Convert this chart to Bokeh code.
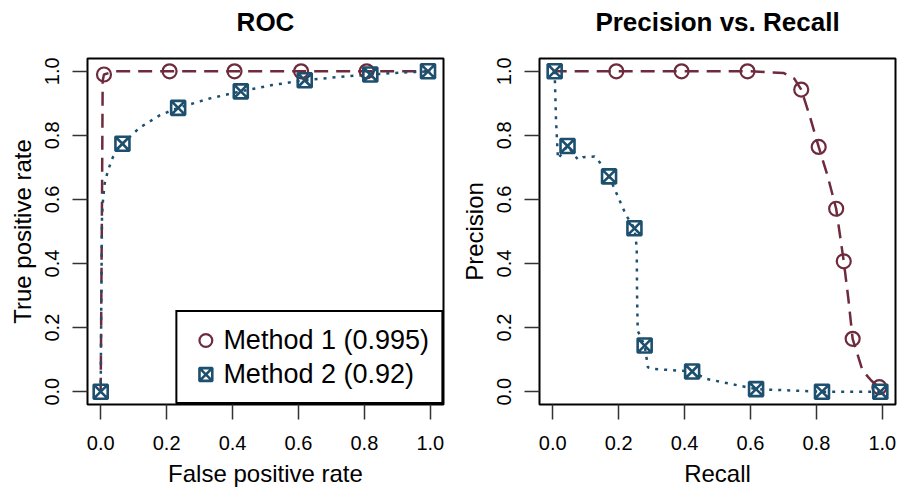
from bokeh.plotting import figure
from bokeh.layouts import row
from bokeh.models import (Range1d, FixedTicker, PrintfTickFormatter, Legend, LegendItem,
                          LinearAxis)
from bokeh.embed import file_html
from bokeh.resources import INLINE

# ---------------- data ----------------
tick_values = [0.0, 0.2, 0.4, 0.6, 0.8, 1.0]

# ROC, method 1 (curve + markers)
roc_m1_fpr = [0.0, 0.002, 0.004, 0.006, 0.010, 0.04, 0.2, 0.4, 0.6, 0.8, 1.0]
roc_m1_tpr = [0.0, 0.30, 0.60, 0.97, 0.990, 1.0, 1.0, 1.0, 1.0, 1.0, 1.0]
roc_m1_mk_fpr = [0.010, 0.209, 0.406, 0.608, 0.807]
roc_m1_mk_tpr = [0.990, 1.0, 1.0, 1.0, 1.0]

# ROC, method 2
roc_m2_fpr = [0.0, 0.001, 0.002, 0.004, 0.007, 0.012, 0.022, 0.037, 0.066, 0.118, 0.179,
              0.235, 0.33, 0.425, 0.52, 0.619, 0.72, 0.818, 0.91, 1.0]
roc_m2_tpr = [0.0, 0.15, 0.30, 0.545, 0.597, 0.649, 0.69, 0.732, 0.774, 0.824, 0.8625,
              0.886, 0.915, 0.9375, 0.957, 0.972, 0.982, 0.990, 0.996, 1.0]
roc_m2_mk_fpr = [0.0, 0.066, 0.235, 0.425, 0.619, 0.818, 0.993]
roc_m2_mk_tpr = [0.0, 0.774, 0.886, 0.9375, 0.972, 0.990, 1.0]

# Precision-recall, method 1
pr_m1_rec = [0.0, 0.2, 0.4, 0.6, 0.70, 0.733, 0.754, 0.78, 0.807, 0.835, 0.860, 0.883,
             0.897, 0.910, 0.94, 0.967, 0.991, 1.0]
pr_m1_prec = [1.0, 1.0, 1.0, 1.0, 0.995, 0.977, 0.943, 0.86, 0.764, 0.67, 0.571, 0.407,
              0.29, 0.165, 0.066, 0.034, 0.014, 0.0]
pr_m1_mk_rec = [0.193, 0.391, 0.591, 0.754, 0.807, 0.860, 0.883, 0.910, 0.991]
pr_m1_mk_prec = [1.0, 1.0, 1.0, 0.943, 0.764, 0.571, 0.407, 0.165, 0.014]

# Precision-recall, method 2
pr_m2_rec = [0.006, 0.010, 0.016, 0.045, 0.077, 0.092, 0.127, 0.142, 0.171, 0.223, 0.248,
             0.255, 0.256, 0.258, 0.279, 0.289, 0.304, 0.423, 0.466, 0.617, 0.817, 1.0]
pr_m2_prec = [1.0, 0.85, 0.727, 0.767, 0.724, 0.732, 0.734, 0.717, 0.672, 0.55, 0.51,
              0.45, 0.30, 0.19, 0.144, 0.076, 0.071, 0.063, 0.040, 0.008, 0.0, 0.0]
pr_m2_mk_rec = [0.006, 0.045, 0.171, 0.248, 0.279, 0.423, 0.617, 0.817, 0.994]
pr_m2_mk_prec = [1.0, 0.767, 0.672, 0.510, 0.144, 0.063, 0.008, 0.0, 0.0]

labels = ["Method 1 (0.995)", "Method 2 (0.92)"]
titles = ["ROC", "Precision vs. Recall"]
xlabels = ["False positive rate", "Recall"]
ylabels = ["True positive rate", "Precision"]

# ---------------- style ----------------
C1 = "#6E2B3D"
C2 = "#1D4F6F"
FONT = "Liberation Sans"


def make_fig(title, xlab, ylab, border_left, border_right, width):
    p = figure(width=width, height=489, output_backend="svg", toolbar_location=None,
               x_range=Range1d(-0.04, 1.04), y_range=Range1d(-0.04, 1.04),
               min_border_left=border_left, min_border_right=border_right,
               min_border_top=58, min_border_bottom=85)
    p.grid.visible = False
    p.outline_line_color = "black"
    p.outline_line_width = 2
    p.background_fill_color = "white"
    p.border_fill_color = "white"
    xax = p.below[0]
    yax = p.left[0]
    for ax in (xax, yax):
        ax.ticker = FixedTicker(ticks=tick_values)
        ax.formatter = PrintfTickFormatter(format="%.1f")
        ax.axis_line_color = None
        ax.major_tick_in = 0
        ax.major_tick_out = 15
        ax.major_tick_line_color = "#333333"
        ax.major_tick_line_width = 1.5
        ax.minor_tick_line_color = None
        ax.major_label_text_font = FONT
        ax.major_label_text_font_size = "20px"
        ax.major_label_text_color = "black"
        ax.axis_label_text_font = FONT
        ax.axis_label_text_font_size = "24px"
        ax.axis_label_text_font_style = "normal"
        ax.axis_label_text_color = "black"
        ax.axis_label_standoff = 7
    xax.major_label_standoff = 16
    yax.major_label_standoff = 13
    xax.axis_label = xlab
    yax.axis_label = ylab
    yax.major_label_orientation = "vertical"
    # title drawn as the label of an empty axis above the frame
    top = LinearAxis(ticker=FixedTicker(ticks=[]), axis_label=title)
    top.axis_line_color = None
    top.major_tick_line_color = None
    top.minor_tick_line_color = None
    top.major_tick_in = 0
    top.major_tick_out = 0
    top.major_label_standoff = 0
    top.axis_label_text_font = FONT
    top.axis_label_text_font_size = "26px"
    top.axis_label_text_font_style = "bold"
    top.axis_label_text_color = "black"
    top.axis_label_standoff = 22
    p.add_layout(top, "above")
    return p


p1 = make_fig(titles[0], xlabels[0], ylabels[0], 87, 8, 451)
p1.line(roc_m1_fpr, roc_m1_tpr, line_color=C1, line_width=2.5, line_dash="14 8")
p1.line(roc_m2_fpr, roc_m2_tpr, line_color=C2, line_width=2.5, line_dash="3 6")
s1 = p1.scatter(roc_m1_mk_fpr, roc_m1_mk_tpr, marker="circle", size=14, fill_color=None,
                line_color=C1, line_width=2.2)
s2 = p1.scatter(roc_m2_mk_fpr, roc_m2_mk_tpr, marker="square_x", size=14, fill_color=None,
                line_color=C2, line_width=2.6)

legend = Legend(items=[LegendItem(label=labels[0], renderers=[s1]),
                       LegendItem(label=labels[1], renderers=[s2])],
                location="bottom_right")
legend.margin = 0
legend.padding = 12
legend.spacing = 2
legend.label_height = 30
legend.glyph_height = 32
legend.glyph_width = 32
legend.label_standoff = 2
legend.label_text_font = FONT
legend.label_text_font_size = "27px"
legend.label_text_color = "black"
legend.border_line_color = "black"
legend.border_line_width = 2
legend.border_line_alpha = 1
legend.background_fill_alpha = 1
p1.add_layout(legend)

p2 = make_fig(titles[1], xlabels[1], ylabels[1], 88, 2, 446)
p2.line(pr_m1_rec, pr_m1_prec, line_color=C1, line_width=2.5, line_dash="14 8")
p2.line(pr_m2_rec, pr_m2_prec, line_color=C2, line_width=2.5, line_dash="3 6")
p2.scatter(pr_m1_mk_rec, pr_m1_mk_prec, marker="circle", size=14, fill_color=None,
           line_color=C1, line_width=2.2)
p2.scatter(pr_m2_mk_rec, pr_m2_mk_prec, marker="square_x", size=14, fill_color=None,
           line_color=C2, line_width=2.6)

layout = row(p1, p2)
open("out.html", "w").write(file_html(layout, INLINE))
